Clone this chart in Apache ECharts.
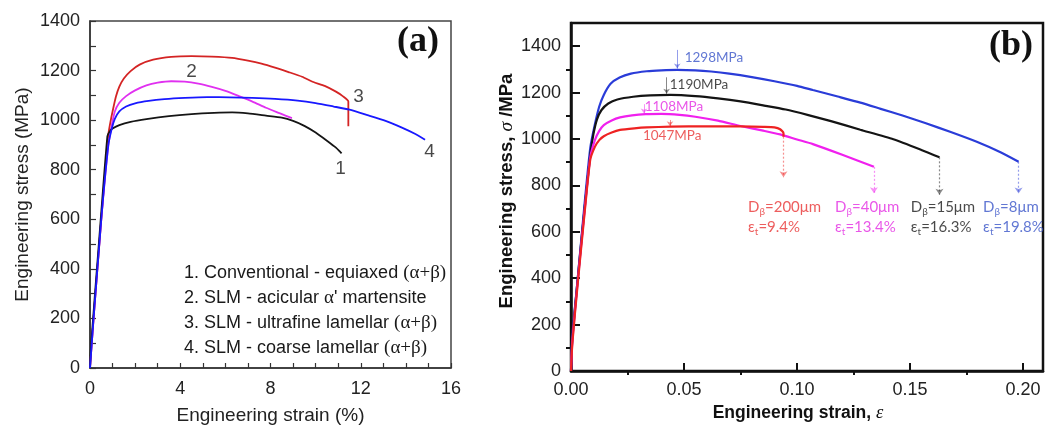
<!DOCTYPE html>
<html><head><meta charset="utf-8">
<script src="https://cdn.jsdelivr.net/npm/echarts@6/dist/echarts.min.js"></script>
<style>html,body{margin:0;padding:0;background:#fff}#c{width:1056px;height:430px}</style>
</head><body><div id="c"></div>
<script>
// ---------- Panel (a): strain in %, stress in MPa ----------
const aConventional = [[0,0],[0.05,95],[0.4,510],[0.77,935],[0.88,955],[1.0,966],[1.3,980],[1.8,993],[2.5,1004],[3.5,1016],[4.5,1024],[5.5,1029],[6.3,1031],[7.0,1027],[7.8,1018],[8.5,1010],[9.0,997],[9.5,977],[10.0,950],[10.5,917],[10.9,889],[11.15,866]];
const aAcicular = [[0,0],[0.15,190],[0.5,600],[0.81,897],[0.96,977],[1.1,1035],[1.3,1070],[1.6,1097],[2.0,1120],[2.5,1140],[3.0,1151],[3.6,1157],[4.2,1155],[4.8,1147],[5.4,1134],[6.0,1118],[6.6,1097],[7.2,1075],[7.8,1050],[8.4,1028],[8.95,1008]];
const aUltrafine = [[0,0],[0.15,190],[0.5,600],[0.81,940],[0.9,990],[1.0,1035],[1.15,1095],[1.3,1135],[1.5,1168],[1.8,1198],[2.2,1224],[2.8,1244],[3.6,1255],[4.5,1258],[5.4,1256],[6.3,1251],[7.0,1240],[7.6,1228],[8.2,1212],[8.8,1194],[9.4,1175],[9.9,1154],[10.4,1138],[10.9,1115],[11.2,1097],[11.45,1075],[11.45,975]];
const aCoarse = [[0,0],[0.15,190],[0.5,600],[0.81,897],[0.96,964],[1.1,1005],[1.3,1035],[1.6,1055],[2.0,1068],[2.6,1078],[3.3,1085],[4.2,1090],[5.2,1093],[6.2,1092],[7.2,1090],[8.2,1086],[9.2,1079],[10.0,1069],[10.8,1055],[11.5,1042],[12.3,1020],[13.1,997],[13.8,971],[14.4,945],[14.85,921]];
const aCurveNames = ['1','2','3','4'];
const aCurveNamePos = [[11.1,804],[4.5,1196],[11.9,1096],[15.05,872]];
const aLegendLines = [
  ['1. Conventional - equiaxed ', '(α+β)'],
  ['2. SLM - acicular ', 'α', '\' martensite'],
  ['3. SLM - ultrafine lamellar ', '(α+β)'],
  ['4. SLM - coarse lamellar ', '(α+β)']
];
const aXLabels = [0,4,8,12,16];
const aYLabels = [0,200,400,600,800,1000,1200,1400];

// ---------- Panel (b): strain (fraction), stress in MPa ----------
const b8um = [[0,0],[0.0006,150],[0.003,400],[0.006,720],[0.0085,960],[0.0105,1060],[0.0125,1140],[0.0145,1190],[0.0175,1238],[0.0215,1265],[0.0265,1282],[0.0335,1292],[0.04,1296],[0.047,1298],[0.055,1296],[0.062,1291],[0.07,1282],[0.08,1267],[0.09,1249],[0.1,1229],[0.107,1211],[0.118,1183],[0.128,1157],[0.137,1130],[0.147,1100],[0.157,1068],[0.168,1030],[0.1795,988],[0.19,943],[0.198,902]];
const b15um = [[0,0],[0.0006,140],[0.003,400],[0.006,700],[0.0085,930],[0.0099,1020],[0.0115,1085],[0.0135,1125],[0.0165,1153],[0.0205,1170],[0.0275,1182],[0.035,1188],[0.044,1190],[0.055,1185],[0.065,1175],[0.075,1162],[0.085,1145],[0.095,1127],[0.105,1103],[0.115,1077],[0.128,1040],[0.1426,999],[0.155,953],[0.163,921]];
const b40um = [[0,0],[0.0006,130],[0.003,390],[0.006,690],[0.0085,920],[0.0106,996],[0.0125,1035],[0.0145,1060],[0.018,1080],[0.0217,1093],[0.027,1102],[0.033,1107],[0.04,1108],[0.048,1104],[0.055,1096],[0.065,1079],[0.075,1056],[0.085,1036],[0.0925,1020],[0.1,998],[0.107,978],[0.12,932],[0.134,880]];
const b200um = [[0,0],[0.0006,120],[0.003,380],[0.006,680],[0.0085,910],[0.0106,967],[0.0125,995],[0.0145,1012],[0.018,1028],[0.0217,1039],[0.028,1046],[0.0335,1050],[0.044,1053],[0.06,1055],[0.075,1054],[0.085,1052],[0.09,1050],[0.0925,1042],[0.094,1025],[0.094,1010]];
// fracture drop arrows [x, from, to]
const bDropArrows = [[0.094,1010,835],[0.134,880,766],[0.163,921,760],[0.198,902,765]];
// peak arrows [x, from, to]
const bPeakArrows = [[0.047,1384,1304],[0.0423,1266,1195],[0.0323,1150,1110],[0.0438,1082,1055]];
const bPeakTexts = ['1298MPa','1190MPa','1108MPa','1047MPa'];
const bPeakTextPos = [[0.0503,1349],[0.0437,1233],[0.0326,1138],[0.0318,1013]];
const bGrain = ['200μm','40μm','15μm','8μm'];
const bElong = ['9.4%','13.4%','16.3%','19.8%'];
const bGrainTextPos = [[0.0783,664],[0.1168,664],[0.1503,664],[0.1823,664]];
const bXLabels = [0,0.05,0.10,0.15,0.20];
const bXMinor = [0.025,0.075,0.125,0.175];
const bYLabels = [0,200,400,600,800,1000,1200,1400];
const bYMinor = [100,300,500,700,900,1100,1300];

const aColors = {c1:'#151515', c2:'#e030f0', c3:'#d42424', c4:'#1818ff'};
const bSeries = [
  {data:b8um, color:'#2a3cd8', text:'#3a55c8'},
  {data:b15um, color:'#141414', text:'#1a1a1a'},
  {data:b40um, color:'#f020ee', text:'#e42de2'},
  {data:b200um, color:'#ee2222', text:'#e83535'}
];
// order in bGrain etc: red, magenta, black, blue
const bLabelOrder = [3,2,1,0];

const chart = echarts.init(document.getElementById('c'), null, {renderer:'canvas'});
const sans = 'Liberation Sans';
const lab = 'Lato';

const series = [];
// panel a lines
[[aUltrafine,aColors.c3],[aAcicular,aColors.c2],[aConventional,aColors.c1],[aCoarse,aColors.c4]].forEach(([d,c])=>{
  series.push({type:'line', xAxisIndex:0, yAxisIndex:0, data:d, showSymbol:false, smooth:0.2,
    lineStyle:{color:c, width:1.8}, silent:true, animation:false});
});
series.push({type:'scatter', xAxisIndex:0, yAxisIndex:0, symbolSize:0, animation:false, silent:true,
  data: aCurveNamePos.map((p,i)=>({value:p, name:aCurveNames[i]})),
  label:{show:true, position:'inside', formatter:p=>p.name, fontSize:19, fontFamily:sans, color:'#1a1a1a'}});
// panel b lines
bSeries.forEach(s=>{
  series.push({type:'line', xAxisIndex:1, yAxisIndex:1, data:s.data, showSymbol:false, smooth:0.2,
    lineStyle:{color:s.color, width:2.2}, silent:true, animation:false});
});
// drop arrows (dotted)
series.push({type:'lines', coordinateSystem:'cartesian2d', xAxisIndex:1, yAxisIndex:1, animation:false, silent:true,
  symbol:['none','arrow'], symbolSize:6,
  data: bDropArrows.map((a,i)=>({coords:[[a[0],a[1]],[a[0],a[2]]], lineStyle:{color:bSeries[bLabelOrder[i]].color}})),
  lineStyle:{width:1.2, type:[2,2]}});
// peak arrows
series.push({type:'lines', coordinateSystem:'cartesian2d', xAxisIndex:1, yAxisIndex:1, animation:false, silent:true,
  symbol:['none','arrow'], symbolSize:5,
  data: bPeakArrows.map((a,i)=>({coords:[[a[0],a[1]],[a[0],a[2]]], lineStyle:{color:bSeries[i].color}})),
  lineStyle:{width:1}});
// peak texts
series.push({type:'scatter', xAxisIndex:1, yAxisIndex:1, symbolSize:0, animation:false, silent:true,
  data: bPeakTextPos.map((p,i)=>({value:p, name:bPeakTexts[i], label:{color:bSeries[i].text}})),
  label:{show:true, position:'right', distance:0, formatter:p=>p.name, fontSize:13.5, fontFamily:lab}});
// grain / elongation texts
series.push({type:'scatter', xAxisIndex:1, yAxisIndex:1, symbolSize:0, animation:false, silent:true,
  data: bGrainTextPos.map((p,i)=>{
    const c = bSeries[bLabelOrder[i]].text;
    return {value:p, name:i, label:{
      formatter:'{d|D}{s|β}{d|=' + bGrain[i] + '}\n{d|ε}{s|t}{d|=' + bElong[i] + '}',
      rich:{d:{fontSize:15, fontFamily:lab, color:c, lineHeight:20},
            s:{fontSize:10, fontFamily:lab, color:c, lineHeight:20, verticalAlign:'bottom', padding:[6,0,0,0]}}}};
  }),
  label:{show:true, position:'right', distance:0}});

const legendGraphics = aLegendLines.map((parts,i)=>{
  let txt = '';
  parts.forEach((p,j)=>{ const serif = (p==='(α+β)'||p==='α'); txt += '{' + (serif?'g':'t') + '|' + p + '}'; });
  return {type:'text', left:184, top:264+i*25, silent:true,
    style:{text:txt, rich:{t:{font:'18px "Liberation Sans"', fill:'#1a1a1a'}, g:{font:'19px "Liberation Serif"', fill:'#1a1a1a'}}}};
});

const option = {
  animation:false,
  backgroundColor:'#fff',
  grid:[
    {left:90, top:21, width:361, height:350, show:true, borderColor:'#444', borderWidth:1.5, backgroundColor:'transparent'},
    {left:571, top:23, width:472, height:348, show:true, borderColor:'#111', borderWidth:2.5, backgroundColor:'transparent'}
  ],
  xAxis:[
    {gridIndex:0, type:'value', min:0, max:16, interval:1,
     axisLine:{lineStyle:{color:'#333', width:1.5}},
     axisTick:{inside:true, length:5, lineStyle:{color:'#333', width:1.2}},
     axisLabel:{formatter:v=>aXLabels.includes(v)?String(v):'', fontSize:18, fontFamily:sans, color:'#222', margin:12},
     splitLine:{show:false},
     name:'Engineering strain (%)', nameLocation:'middle', nameGap:38,
     nameTextStyle:{fontSize:19, fontFamily:sans, color:'#222'}},
    {gridIndex:1, type:'value', min:0, max:0.2088,
     axisLine:{lineStyle:{color:'#111', width:2.5}},
     axisTick:{inside:true, length:8, customValues:bXLabels, lineStyle:{color:'#111', width:2}},
     axisLabel:{customValues:bXLabels, formatter:v=>v.toFixed(2), fontSize:18, fontFamily:sans, color:'#222', margin:10},
     splitLine:{show:false},
     name:'{b|Engineering strain, }{i|ε}', nameLocation:'middle', nameGap:32,
     nameTextStyle:{padding:[0,18,0,0], rich:{b:{fontSize:17.5, fontWeight:'bold', fontFamily:sans, color:'#111'}, i:{fontSize:18.5, fontStyle:'italic', fontFamily:'Liberation Serif', color:'#111'}}}},
    {gridIndex:1, type:'value', min:0, max:0.2088,
     axisLine:{show:false},
     axisTick:{inside:true, length:4, customValues:bXMinor, lineStyle:{color:'#111', width:2}},
     axisLabel:{show:false}, splitLine:{show:false}}
  ],
  yAxis:[
    {gridIndex:0, type:'value', min:0, max:1400, interval:100,
     axisLine:{lineStyle:{color:'#333', width:1.5}},
     axisTick:{inside:true, length:6, lineStyle:{color:'#333', width:1.2}},
     axisLabel:{formatter:v=>aYLabels.includes(v)?String(v):'', fontSize:18, fontFamily:sans, color:'#222', margin:10},
     splitLine:{show:false},
     name:'Engineering stress (MPa)', nameLocation:'middle', nameGap:58,
     nameTextStyle:{fontSize:19, fontFamily:sans, color:'#222'}},
    {gridIndex:1, type:'value', min:0, max:1500,
     axisLine:{lineStyle:{color:'#111', width:2.5}},
     axisTick:{inside:true, length:9, customValues:bYLabels, lineStyle:{color:'#111', width:2}},
     axisLabel:{customValues:bYLabels, formatter:v=>String(v), fontSize:18, fontFamily:sans, color:'#222', margin:10},
     splitLine:{show:false},
     name:'{b|Engineering stress, }{i|σ}{b| /MPa}', nameLocation:'middle', nameGap:44,
     nameTextStyle:{padding:[0,0,0,12], rich:{b:{fontSize:18.5, fontWeight:'bold', fontFamily:sans, color:'#111'}, i:{fontSize:19.5, fontStyle:'italic', fontFamily:'Liberation Serif', color:'#111'}}}},
    {gridIndex:1, type:'value', min:0, max:1500,
     axisLine:{show:false},
     axisTick:{inside:true, length:5, customValues:bYMinor, lineStyle:{color:'#111', width:2}},
     axisLabel:{show:false}, splitLine:{show:false}}
  ],
  graphic:[
    {type:'text', left:397, top:24, silent:true, style:{text:'(a)', font:'bold 36px "Liberation Serif"', fill:'#111'}},
    {type:'text', left:989, top:28, silent:true, style:{text:'(b)', font:'bold 36px "Liberation Serif"', fill:'#111'}},
    ...legendGraphics
  ],
  series:series
};
chart.setOption(option);
</script></body></html>
